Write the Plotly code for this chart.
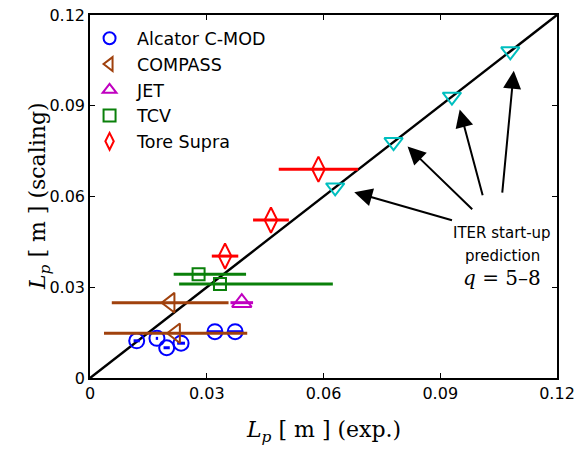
import plotly.graph_objects as go

# Data
cmod_x = [0.0120, 0.0172, 0.0197, 0.0234, 0.0321, 0.0373]
cmod_y = [0.0123, 0.0131, 0.0100, 0.0115, 0.0153, 0.0153]
cmod_ex = [0.0008, 0.0003, 0.0008, 0.0010, 0.0018, 0.0018]

compass_x = [0.0206, 0.0220]
compass_y = [0.0249, 0.0148]
compass_ex = [0.0150, 0.0184]

jet_x = [0.0390]
jet_y = [0.0249]
jet_ex = [0.0029]

tcv_x = [0.0279, 0.0334]
tcv_y = [0.0343, 0.0311]
tcv_ex_plus = [0.0122, 0.0290]
tcv_ex_minus = [0.0064, 0.0105]

ts_x = [0.0347, 0.0465, 0.0587]
ts_y = [0.0403, 0.0522, 0.0690]
ts_ex = [0.0034, 0.0046, 0.0102]

iter_x = [0.063, 0.078, 0.093, 0.108]
iter_y = [0.063, 0.078, 0.093, 0.108]

line_x = [0, 0.12]
line_y = [0, 0.12]

arrow_tips = [(0.0679, 0.0614), (0.0816, 0.0765), (0.0950, 0.0888), (0.1089, 0.1016)]
arrow_tails = [(0.0934, 0.0520), (0.0986, 0.0553), (0.1010, 0.0599), (0.1059, 0.0608)]

fig = go.Figure()

fig.add_trace(go.Scatter(x=line_x, y=line_y, mode="lines",
                         line=dict(color="black", width=2.5), showlegend=False))

def eb(arr, color, arrminus=None):
    d = dict(type="data", array=arr, color=color, thickness=3, width=0)
    if arrminus is not None:
        d["symmetric"] = False
        d["arrayminus"] = arrminus
    return d

fig.add_trace(go.Scatter(x=cmod_x, y=cmod_y, mode="markers", name="Alcator C-MOD",
                         error_x=eb(cmod_ex, "blue"),
                         marker=dict(symbol="circle-open", size=15, color="blue",
                                     line=dict(width=2, color="blue"))))
fig.add_trace(go.Scatter(x=compass_x, y=compass_y, mode="markers", name="COMPASS",
                         error_x=eb(compass_ex, "#a0410d"),
                         marker=dict(symbol="triangle-left-open", size=17, color="#a0410d",
                                     line=dict(width=2, color="#a0410d"))))
fig.add_trace(go.Scatter(x=jet_x, y=jet_y, mode="markers", name="JET",
                         error_x=eb(jet_ex, "#c000c0"),
                         marker=dict(symbol="triangle-up-open", size=17, color="#c000c0",
                                     line=dict(width=2, color="#c000c0"))))
fig.add_trace(go.Scatter(x=tcv_x, y=tcv_y, mode="markers", name="TCV",
                         error_x=eb(tcv_ex_plus, "#0a800a", tcv_ex_minus),
                         marker=dict(symbol="square-open", size=12, color="#0a800a",
                                     line=dict(width=2, color="#0a800a"))))
fig.add_trace(go.Scatter(x=ts_x, y=ts_y, mode="markers", name="Tore Supra",
                         error_x=eb(ts_ex, "red"),
                         marker=dict(symbol="diamond-tall-open", size=18, color="red",
                                     line=dict(width=2, color="red"))))
fig.add_trace(go.Scatter(x=iter_x, y=iter_y, mode="markers", showlegend=False,
                         marker=dict(symbol="triangle-down-open", size=16, color="#00bfbf",
                                     line=dict(width=2, color="#00bfbf"))))

for (tx, ty), (sx, sy) in zip(arrow_tips, arrow_tails):
    fig.add_annotation(x=tx, y=ty, ax=sx, ay=sy, xref="x", yref="y", axref="x", ayref="y",
                       text="", showarrow=True, arrowhead=2, arrowsize=1.8, arrowwidth=2,
                       arrowcolor="black")

fig.add_annotation(x=0.1059, y=0.0479, xref="x", yref="y", showarrow=False,
                   text="ITER start-up", font=dict(family="DejaVu Sans", size=15, color="black"))
fig.add_annotation(x=0.1059, y=0.0403, xref="x", yref="y", showarrow=False,
                   text="prediction", font=dict(family="DejaVu Sans", size=15, color="black"))
fig.add_annotation(x=0.1059, y=0.0330, xref="x", yref="y", showarrow=False,
                   text="<i>q</i> = 5–8", font=dict(family="DejaVu Serif", size=20, color="black"))

# axis titles as annotations for exact placement
fig.add_annotation(x=0.5, y=-0.148, xref="paper", yref="paper", showarrow=False,
                   xanchor="center", yanchor="middle",
                   text="<i>L</i><sub><i>p</i></sub> [ m ] (exp.)",
                   font=dict(family="DejaVu Serif", size=22, color="black"))
fig.add_annotation(x=-0.108, y=0.5, xref="paper", yref="paper", showarrow=False,
                   xanchor="center", yanchor="middle", textangle=-90,
                   text="<i>L</i><sub><i>p</i></sub> [ m ] (scaling)",
                   font=dict(family="DejaVu Serif", size=22, color="black"))

axis_common = dict(showline=True, linecolor="black", linewidth=1.5, mirror="ticks",
                   ticks="inside", ticklen=5, tickcolor="black", showgrid=False, zeroline=False,
                   automargin=False, ticklabeloverflow="allow",
                   range=[0, 0.12], tickvals=[0, 0.03, 0.06, 0.09, 0.12],
                   ticktext=["0", "0.03", "0.06", "0.09", "0.12"],
                   tickfont=dict(family="DejaVu Sans", size=16, color="black"))

fig.update_xaxes(**axis_common)
fig.update_yaxes(**axis_common)

fig.update_layout(width=579, height=451, plot_bgcolor="white", paper_bgcolor="white",
                  margin=dict(l=90, r=22, t=15, b=73),
                  legend=dict(x=-0.017, y=0.985, xanchor="left", yanchor="top",
                              bgcolor="rgba(255,255,255,0)", borderwidth=0,
                              font=dict(family="DejaVu Sans", size=17.5, color="black"),
                              itemwidth=45,
                              itemsizing="constant", tracegroupgap=0))

# remove the browser's default 8px page margin so the figure fills the window
fig.write_html("out.html", config={"displayModeBar": False},
               post_script="document.body.style.margin='0';")
